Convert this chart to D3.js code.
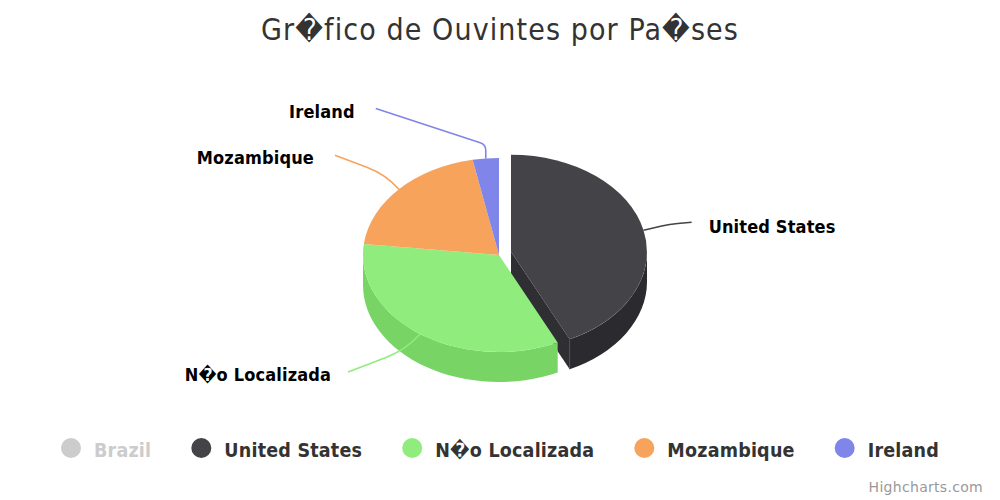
<!DOCTYPE html>
<html lang="en">
<head>
<meta charset="utf-8">
<title>Ouvintes por Paises</title>
<script src="https://d3js.org/d3.v7.min.js"></script>
<style>
  body { margin: 0; background: #fff; }
  text { font-family: "DejaVu Sans", sans-serif; }
  .title { font-size: 30px; fill: #333; text-anchor: middle; font-family: "DejaVu Sans Condensed", "DejaVu Sans", sans-serif; letter-spacing: 1.1px; }
  .label { font-size: 18px; font-weight: bold; fill: #000; font-family: "DejaVu Sans Condensed", "DejaVu Sans", sans-serif; letter-spacing: 0.15px; }
  .legend-text { font-size: 19.5px; font-weight: bold; fill: #333; font-family: "DejaVu Sans Condensed", "DejaVu Sans", sans-serif; letter-spacing: 0.2px; }
  .credits { font-size: 14px; fill: #999; text-anchor: end; letter-spacing: 0.3px; }
</style>
</head>
<body>
<script>
var categories = ["United States", "N\uFFFDo Localizada", "Mozambique", "Ireland"];
var shares = [42.9, 33.9, 20.1, 3.1];
var legendNames = ["Brazil", "United States", "N\uFFFDo Localizada", "Mozambique", "Ireland"];
var hiddenLegend = ["Brazil"];
var colors = ["#434348", "#90ed7d", "#f7a35c", "#8085e9"];
var sideColors = ["#2b2b2f", "#77d465", "#de8a43", "#6768d0"];
var legendColors = ["#ccc", "#434348", "#90ed7d", "#f7a35c", "#8085e9"];

var w = 1000, h = 500;
var cx = 499, cy = 255, rx = 136, ry = 97, depth = 30;
var sliced = [12, -3.3]; // offset of the pulled out slice

// label anchors, relative to the point on the rim
var connectors = [
  { end: [48, -8], elbow: [26, -6], r: 120, dx: 17, dy: 11, anchor: "start" },
  { end: [-72, 38], elbow: [-15, 16], r: 87, dx: -17, dy: 9, anchor: "end" },
  { end: [-64, -34], elbow: [-13, -15], r: 80, dx: -21, dy: 9, anchor: "end" },
  { end: [-110, -50], elbow: [0, -14], r: 8, dx: -21, dy: 10, anchor: "end" }
];

var svg = d3.select("body").append("svg")
  .attr("width", w)
  .attr("height", h)
  .style("display", "block");

svg.append("text")
  .attr("class", "title")
  .attr("x", w / 2)
  .attr("y", 40)
  .text("Gr\uFFFDfico de Ouvintes por Pa\uFFFDses");

var slices = d3.pie().sort(null)(shares);
var arc = d3.arc().innerRadius(0).outerRadius(1);

function rim(a, ox, oy) {
  return [cx + ox + rx * Math.sin(a), cy + oy - ry * Math.cos(a)];
}

function offset(i) {
  return i === 0 ? sliced : [0, 0];
}

// the outer wall, only the part that faces the viewer
function wallPath(d, i) {
  var o = offset(i);
  var a0 = Math.max(d.startAngle, Math.PI / 2);
  var a1 = Math.min(d.endAngle, Math.PI * 1.5);
  if (a1 <= a0) return null;
  var p0 = rim(a0, o[0], o[1]), p1 = rim(a1, o[0], o[1]);
  return "M" + p0 + "A" + rx + "," + ry + " 0 0 1 " + p1 +
    "L" + [p1[0], p1[1] + depth] +
    "A" + rx + "," + ry + " 0 0 0 " + [p0[0], p0[1] + depth] + "Z";
}

var pie = svg.append("g");

slices.forEach(function(d, i) {
  var o = offset(i);
  var wall = wallPath(d, i);
  if (i === 0) {
    // cut face of the pulled out slice
    var p = rim(d.endAngle, o[0], o[1]);
    var c = [cx + o[0], cy + o[1]];
    pie.append("path")
      .attr("d", "M" + c + "L" + p + "L" + [p[0], p[1] + depth] + "L" + [c[0], c[1] + depth] + "Z")
      .attr("fill", "#2f2f33");
  }
  if (wall) pie.append("path").attr("d", wall).attr("fill", sideColors[i]);
  if (i === 0) {
    // light seam where the cut face meets the wall
    pie.append("path")
      .attr("d", "M" + p + "L" + [p[0], p[1] + depth])
      .attr("stroke", "#4d4d52")
      .attr("stroke-width", 1);
  }
  pie.append("path")
    .attr("d", arc(d))
    .attr("transform", "translate(" + (cx + o[0]) + "," + (cy + o[1]) + ") scale(" + rx + "," + ry + ")")
    .attr("fill", colors[i]);
});

// connectors and data labels
slices.forEach(function(d, i) {
  var o = offset(i), k = connectors[i];
  var mid = (d.startAngle + d.endAngle) / 2;
  var a = rim(mid, o[0], o[1]);
  var end = [a[0] + k.end[0], a[1] + k.end[1]];
  var path = d3.path();
  path.moveTo(end[0], end[1]);
  path.arcTo(a[0] + k.elbow[0], a[1] + k.elbow[1], a[0], a[1], k.r);
  path.lineTo(a[0], a[1]);
  svg.append("path")
    .attr("d", path.toString())
    .attr("fill", "none")
    .attr("stroke", colors[i])
    .attr("stroke-width", 1.6);
  svg.append("text")
    .attr("class", "label")
    .attr("x", end[0] + k.dx)
    .attr("y", end[1] + k.dy)
    .attr("text-anchor", k.anchor)
    .text(categories[i]);
});

// legend, flowed from the left
var lx = 61;
legendNames.forEach(function(name, i) {
  var off = hiddenLegend.indexOf(name) >= 0;
  var g = svg.append("g");
  g.append("circle")
    .attr("cx", lx + 10)
    .attr("cy", 448)
    .attr("r", 10)
    .attr("fill", legendColors[i]);
  var t = g.append("text")
    .attr("class", "legend-text")
    .attr("x", lx + 33)
    .attr("y", 457)
    .style("fill", off ? "#ccc" : null)
    .text(name);
  lx += 33 + t.node().getComputedTextLength() + 40;
});

svg.append("text")
  .attr("class", "credits")
  .attr("x", 983)
  .attr("y", 492)
  .text("Highcharts.com");
</script>
</body>
</html>
